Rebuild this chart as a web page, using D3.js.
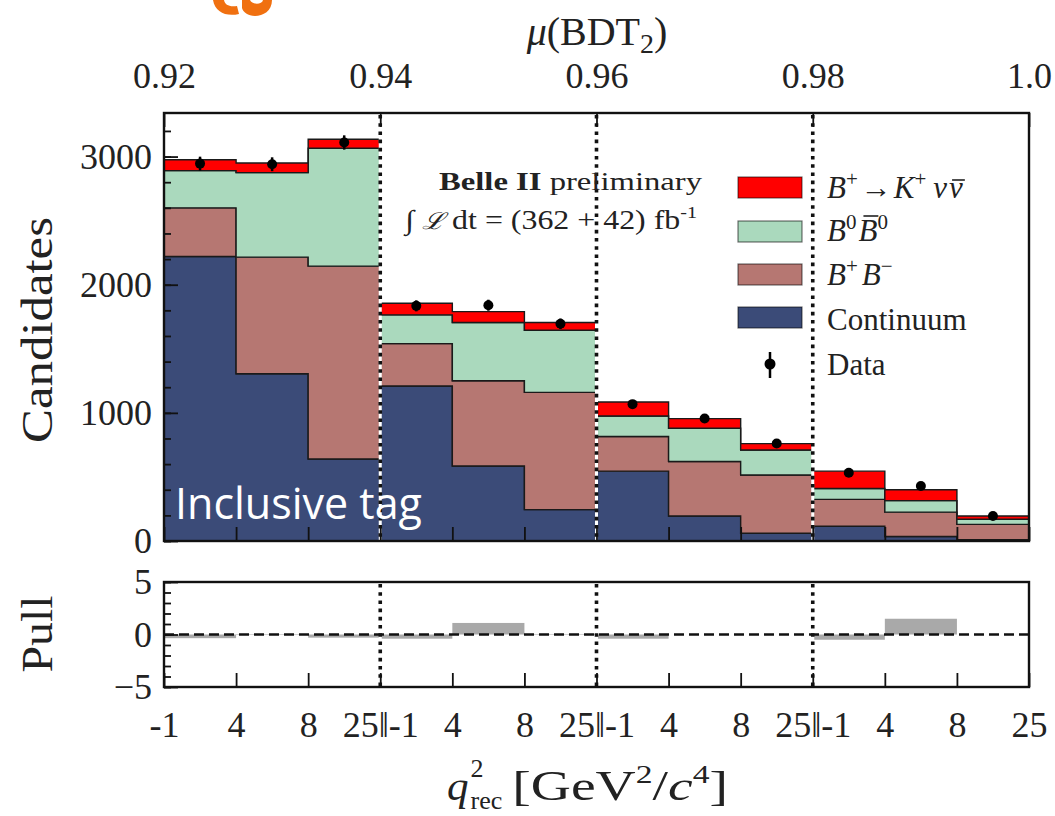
<!DOCTYPE html>
<html><head><meta charset="utf-8">
<script src="https://cdn.jsdelivr.net/npm/d3@7"></script>
<style>body{margin:0;background:#fff}svg{display:block}</style></head>
<body>
<svg id="c" width="1055" height="816"></svg>
<script>
// ---------------- data ----------------
const binLabels = ["-1","4","8","25\u2016-1","4","8","25\u2016-1","4","8","25\u2016-1","4","8","25"];
const continuum = [2220, 1305, 640, 1210, 585, 245, 545, 195, 60, 115, 35, 10];
const bPlusBMinus = [380, 910, 1505, 330, 665, 915, 270, 425, 455, 210, 190, 120];
const b0B0bar = [290, 660, 920, 225, 455, 485, 160, 260, 195, 85, 90, 40];
const signal = [85, 75, 70, 90, 85, 60, 110, 75, 50, 135, 85, 25];
const dataCounts = [2945, 2940, 3110, 1835, 1840, 1695, 1068, 956, 761, 532, 429, 195];
const pulls = [-0.35, -0.05, -0.3, -0.4, 1.1, 0.05, -0.4, 0.0, 0.0, -0.5, 1.5, 0.0];
const yTicksMain = [0, 1000, 2000, 3000];
const yTicksPull = [-5, 0, 5];
const muTicks = [0.92, 0.94, 0.96, 0.98, 1.0];
const muTickLabels = ["0.92", "0.94", "0.96", "0.98", "1.0"];
const separators = [3, 6, 9];
const keys = ["continuum", "bpbm", "b0b0", "signal"];
const colors = {continuum: "#3b4b78", bpbm: "#b67772", b0b0: "#aad9bd", signal: "#ff0000"};

// ---------------- layout ----------------
const L = 164, R = 1029;
const mainTop = 113, mainBot = 541;
const pullTop = 582, pullBot = 687;
const serif = "'Liberation Serif', 'DejaVu Serif', serif";

const svg = d3.select("#c");
const nBins = continuum.length;
const x = d3.scaleLinear().domain([0, nBins]).range([L, R]);
const xTop = d3.scaleLinear().domain([0.92, 1.0]).range([L, R]);
const y = d3.scaleLinear().domain([0, 3340]).range([mainBot, mainTop]);
const yP = d3.scaleLinear().domain([-5, 5]).range([pullBot, pullTop]);

const table = d3.range(nBins + 1).map(i => {
  const j = Math.min(i, nBins - 1);
  return {i, continuum: continuum[j], bpbm: bPlusBMinus[j], b0b0: b0B0bar[j], signal: signal[j]};
});
const stacked = d3.stack().keys(keys)(table);

// orange logo fragment at top
svg.append("path")
  .attr("d", "M213,0 L224,0 C225,5 229,7 237,6 L239,14 C226,17 215,12 213,0 Z")
  .attr("fill", "#f07010");
svg.append("path")
  .attr("d", "M242,0 L250,0 C252,5 262,5 263,0 L272,0 C272,11 263,16 255,16 C248,16 243,12 242,8 Z")
  .attr("fill", "#f07010");

// ---------------- main panel ----------------
const area = d3.area()
  .x(d => x(d.data.i))
  .y0(d => y(d[0]))
  .y1(d => y(d[1]))
  .curve(d3.curveStepAfter);

svg.append("g").selectAll("path")
  .data(stacked)
  .join("path")
  .attr("d", area)
  .attr("fill", d => colors[d.key])
  .attr("stroke", "#1a1a1a")
  .attr("stroke-width", 1.4);

function drawSeparators(top, bot) {
  const g = svg.append("g");
  separators.forEach(s => {
    g.append("line").attr("x1", x(s)).attr("x2", x(s)).attr("y1", top).attr("y2", bot)
      .attr("stroke", "#fff").attr("stroke-width", 3);
    g.append("line").attr("x1", x(s)).attr("x2", x(s)).attr("y1", top + 2).attr("y2", bot)
      .attr("stroke", "#111").attr("stroke-width", 3.6).attr("stroke-dasharray", "3.6,4.6");
  });
}
drawSeparators(mainTop, mainBot);

// data points
const dg = svg.append("g");
dataCounts.forEach((v, i) => {
  const cx = x(i + 0.5);
  const e = Math.sqrt(v);
  dg.append("line").attr("x1", cx).attr("x2", cx).attr("y1", y(v - e)).attr("y2", y(v + e))
    .attr("stroke", "#000").attr("stroke-width", 2.5);
  dg.append("circle").attr("cx", cx).attr("cy", y(v)).attr("r", 5).attr("fill", "#000");
});

svg.append("text").attr("x", 175).attr("y", 519)
  .attr("font-family", "'Open Sans', sans-serif").attr("font-size", 43)
  .attr("fill", "#fff").text("Inclusive tag");

// axes main
const axLeftMinor = d3.axisLeft(y).tickValues(d3.range(0, 3340, 200)).tickSize(-7).tickFormat("");
svg.append("g").attr("transform", `translate(${L},0)`).call(axLeftMinor);
const axLeft = d3.axisLeft(y).tickValues(yTicksMain).tickSize(-14).tickPadding(12).tickFormat(d3.format("d"));
svg.append("g").attr("class", "tickl").attr("transform", `translate(${L},0)`).call(axLeft);
const axBotMain = d3.axisBottom(x).tickValues(d3.range(nBins + 1)).tickSize(-14).tickFormat("");
svg.append("g").attr("transform", `translate(0,${mainBot})`).call(axBotMain);
const axTop = d3.axisTop(xTop).tickValues(muTicks).tickSize(-14).tickPadding(25)
  .tickFormat((d, i) => muTickLabels[i]);
svg.append("g").attr("class", "tickl").attr("transform", `translate(0,${mainTop})`).call(axTop);

svg.append("rect").attr("x", L).attr("y", mainTop).attr("width", R - L).attr("height", mainBot - mainTop)
  .attr("fill", "none").attr("stroke", "#111").attr("stroke-width", 2.4);

// Belle II label
const bt = svg.append("text").attr("x", 439).attr("y", 190).attr("font-family", serif)
  .attr("font-size", 25).attr("fill", "#222").attr("textLength", 263).attr("lengthAdjust", "spacingAndGlyphs");
bt.append("tspan").attr("font-weight", "bold").text("Belle II");
bt.append("tspan").text(" preliminary");
const lt = svg.append("text").attr("x", 405).attr("y", 229).attr("font-family", serif)
  .attr("font-size", 27).attr("fill", "#222").attr("textLength", 292).attr("lengthAdjust", "spacingAndGlyphs");
lt.append("tspan").text("\u222B ");
lt.append("tspan").attr("font-style", "italic").attr("font-family", "'DejaVu Serif', serif").attr("font-size", 23).text("\u2112");
lt.append("tspan").text(" dt = (362 + 42) fb");
lt.append("tspan").attr("dy", -11).attr("font-size", 17).text("-1");

// legend
const legItems = [
  {key: "signal", y: 177},
  {key: "b0b0", y: 221},
  {key: "bpbm", y: 264},
  {key: "continuum", y: 307}
];
const lg = svg.append("g");
legItems.forEach(it => {
  lg.append("rect").attr("x", 738).attr("y", it.y).attr("width", 64).attr("height", 21)
    .attr("fill", colors[it.key]).attr("stroke", "#000").attr("stroke-opacity", 0.55).attr("stroke-width", 1.2);
});
const lfs = 31;
function legText(xx, yb) {
  return lg.append("text").attr("x", xx).attr("y", yb).attr("font-family", serif)
    .attr("font-size", lfs).attr("fill", "#222");
}
let t = legText(827, 198);
t.append("tspan").attr("font-style", "italic").text("B");
t.append("tspan").attr("dy", -12).attr("font-size", 21).text("+");
t.append("tspan").attr("dy", 12).attr("dx", 3).text("\u2192");
t.append("tspan").attr("dx", 2).attr("font-style", "italic").text("K");
t.append("tspan").attr("dy", -12).attr("font-size", 21).text("+");
t.append("tspan").attr("dy", 12).attr("dx", 7).attr("font-style", "italic").text("\u03BD");
{
  const n = t.node();
  const e = n.getExtentOfChar(n.getNumberOfChars() - 1);
  const x2 = e.x + e.width + 2;
  const nb = legText(x2, 198).attr("font-style", "italic").text("\u03BD");
  const nbw = nb.node().getComputedTextLength();
  lg.append("line").attr("x1", x2 + 3).attr("x2", x2 + nbw + 2)
    .attr("y1", 180).attr("y2", 180).attr("stroke", "#222").attr("stroke-width", 1.6);
}

t = legText(827, 241);
t.append("tspan").attr("font-style", "italic").text("B");
t.append("tspan").attr("dy", -12).attr("font-size", 21).text("0");
t.append("tspan").attr("dy", 12).attr("dx", 2).attr("font-style", "italic").text("B");
t.append("tspan").attr("dy", -12).attr("font-size", 21).text("0");
{
  const n = t.node();
  const e = n.getExtentOfChar(2);
  lg.append("line").attr("x1", e.x + 5).attr("x2", e.x + e.width + 1)
    .attr("y1", 216).attr("y2", 216).attr("stroke", "#222").attr("stroke-width", 1.6);
}
t = legText(827, 285);
t.append("tspan").attr("font-style", "italic").text("B");
t.append("tspan").attr("dy", -12).attr("font-size", 21).text("+");
t.append("tspan").attr("dy", 12).attr("dx", 4).attr("font-style", "italic").text("B");
t.append("tspan").attr("dy", -12).attr("font-size", 21).text("\u2212");
legText(827, 330).text("Continuum");
legText(827, 375).text("Data");
lg.append("line").attr("x1", 770).attr("x2", 770).attr("y1", 352).attr("y2", 378)
  .attr("stroke", "#000").attr("stroke-width", 2.5);
lg.append("circle").attr("cx", 770).attr("cy", 364).attr("r", 5.5).attr("fill", "#000");

// ---------------- pull panel ----------------
svg.append("g").selectAll("rect").data(pulls).join("rect")
  .attr("x", (d, i) => x(i)).attr("width", (d, i) => x(i + 1) - x(i))
  .attr("y", d => yP(Math.max(d, 0))).attr("height", d => Math.abs(yP(d) - yP(0)))
  .attr("fill", "#a9a9a9");
drawSeparators(pullTop, pullBot);
svg.append("line").attr("x1", L).attr("x2", R).attr("y1", yP(0)).attr("y2", yP(0))
  .attr("stroke", "#111").attr("stroke-width", 2.6).attr("stroke-dasharray", "10,5");

const axPMinor = d3.axisLeft(yP).tickValues(d3.range(-5, 6, 1)).tickSize(-7).tickFormat("");
svg.append("g").attr("transform", `translate(${L},0)`).call(axPMinor);
const axP = d3.axisLeft(yP).tickValues(yTicksPull).tickSize(-14).tickPadding(12)
  .tickFormat(d => d < 0 ? "\u2212" + Math.abs(d) : String(d));
svg.append("g").attr("class", "tickl").attr("transform", `translate(${L},0)`).call(axP);
const axPB = d3.axisBottom(x).tickValues(d3.range(nBins + 1)).tickSize(-14).tickPadding(24)
  .tickFormat((d, i) => binLabels[i]);
svg.append("g").attr("class", "tickl").attr("transform", `translate(0,${pullBot})`).call(axPB);

svg.append("rect").attr("x", L).attr("y", pullTop).attr("width", R - L).attr("height", pullBot - pullTop)
  .attr("fill", "none").attr("stroke", "#111").attr("stroke-width", 2.4);

svg.selectAll(".domain").remove();
svg.selectAll(".tick line").attr("stroke", "#111").attr("stroke-width", 1.8);
svg.selectAll(".tickl .tick text").attr("font-family", serif).attr("font-size", 36).attr("fill", "#222");

// ---------------- axis titles ----------------
svg.append("text").attr("transform", "translate(52,330) rotate(-90)")
  .attr("text-anchor", "middle").attr("font-family", serif).attr("font-size", 44).attr("fill", "#222")
  .attr("textLength", 226).attr("lengthAdjust", "spacingAndGlyphs").text("Candidates");
svg.append("text").attr("transform", "translate(52,634) rotate(-90)")
  .attr("text-anchor", "middle").attr("font-family", serif).attr("font-size", 44).attr("fill", "#222")
  .attr("textLength", 77).attr("lengthAdjust", "spacingAndGlyphs").text("Pull");

const tt = svg.append("text").attr("x", 597).attr("y", 45).attr("text-anchor", "middle")
  .attr("font-family", serif).attr("font-size", 40).attr("fill", "#222");
tt.append("tspan").attr("font-style", "italic").text("\u03BC");
tt.append("tspan").text("(BDT");
tt.append("tspan").attr("dy", 8).attr("font-size", 28).text("2");
tt.append("tspan").attr("dy", -8).text(")");

// bottom x label: q^2_rec [GeV^2/c^4]
const xg = svg.append("g");
const xfs = 43, xsfs = 26;
const q = xg.append("text").attr("x", 0).attr("y", 800).attr("font-family", serif).attr("font-size", xfs)
  .attr("font-style", "italic").attr("fill", "#222").text("q");
const qw = q.node().getComputedTextLength();
xg.append("text").attr("x", qw + 2).attr("y", 777).attr("font-family", serif).attr("font-size", xsfs)
  .attr("fill", "#222").text("2");
const rec = xg.append("text").attr("x", qw + 2).attr("y", 809).attr("font-family", serif).attr("font-size", xsfs)
  .attr("fill", "#222").text("rec");
const rw = rec.node().getComputedTextLength();
const restX = qw + rw + 12;
const targetW = 281;
const rest = xg.append("text").attr("x", restX).attr("y", 800).attr("font-family", serif)
  .attr("font-size", xfs).attr("fill", "#222")
  .attr("textLength", targetW - restX).attr("lengthAdjust", "spacingAndGlyphs");
rest.append("tspan").text("[GeV");
rest.append("tspan").attr("dy", -17).attr("font-size", xsfs).text("2");
rest.append("tspan").attr("dy", 17).text("/");
rest.append("tspan").attr("font-style", "italic").text("c");
rest.append("tspan").attr("dy", -17).attr("font-size", xsfs).text("4");
rest.append("tspan").attr("dy", 17).text("]");
xg.attr("transform", `translate(${447},0)`);
</script>
</body></html>
